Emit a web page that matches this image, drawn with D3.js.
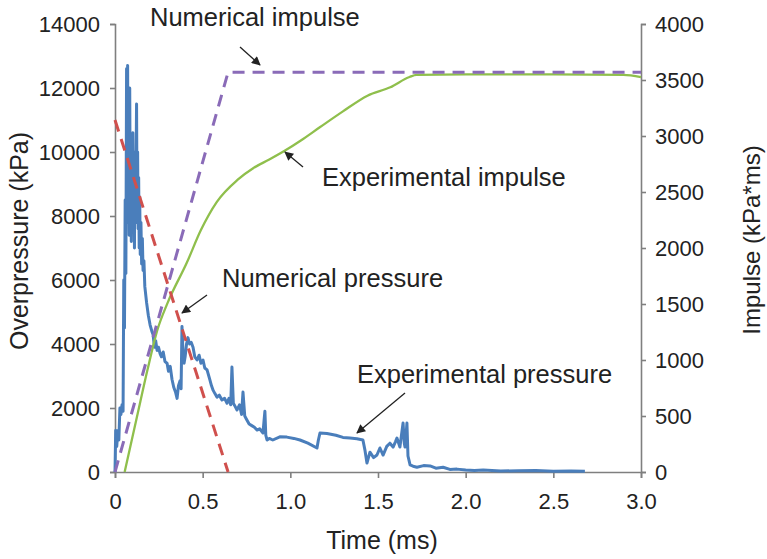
<!DOCTYPE html>
<html>
<head>
<meta charset="utf-8">
<script src="https://cdn.jsdelivr.net/npm/d3@7"></script>
<style>
  body { margin: 0; background: #fff; }
  svg { font-family: "Liberation Sans", Arial, sans-serif; }
  .axis path, .axis line { stroke: #7f7f7f; stroke-width: 1.6; }
  .axis text { fill: #222; font-size: 22px; }
</style>
</head>
<body>
<svg id="chart"></svg>
<script>
// time in ms, pressure in kPa, impulse in kPa*ms
const expPressureT = [0.000, 0.004, 0.010, 0.016, 0.022, 0.028, 0.034, 0.040, 0.046, 0.050, 0.054, 0.058, 0.062, 0.066, 0.069, 0.072, 0.075, 0.078, 0.081, 0.084, 0.087, 0.090, 0.093, 0.096, 0.099, 0.102, 0.105, 0.108, 0.111, 0.114, 0.117, 0.120, 0.123, 0.126, 0.129, 0.132, 0.135, 0.138, 0.141, 0.144, 0.148, 0.152, 0.156, 0.160, 0.165, 0.170, 0.180, 0.190, 0.200, 0.210, 0.217, 0.225, 0.232, 0.240, 0.248, 0.257, 0.265, 0.275, 0.285, 0.297, 0.305, 0.315, 0.325, 0.335, 0.345, 0.354, 0.362, 0.371, 0.377, 0.382, 0.388, 0.394, 0.400, 0.408, 0.416, 0.425, 0.435, 0.445, 0.455, 0.468, 0.480, 0.490, 0.502, 0.512, 0.525, 0.540, 0.550, 0.560, 0.570, 0.582, 0.595, 0.610, 0.625, 0.639, 0.650, 0.660, 0.667, 0.675, 0.685, 0.696, 0.710, 0.722, 0.730, 0.740, 0.753, 0.765, 0.780, 0.795, 0.810, 0.825, 0.844, 0.850, 0.855, 0.860, 0.867, 0.880, 0.900, 0.940, 0.980, 1.020, 1.055, 1.100, 1.152, 1.160, 1.169, 1.209, 1.260, 1.300, 1.340, 1.380, 1.414, 1.425, 1.437, 1.454, 1.475, 1.494, 1.511, 1.529, 1.550, 1.568, 1.586, 1.600, 1.608, 1.625, 1.643, 1.650, 1.654, 1.660, 1.665, 1.671, 1.683, 1.700, 1.722, 1.760, 1.797, 1.830, 1.871, 1.910, 1.950, 2.000, 2.050, 2.100, 2.200, 2.300, 2.400, 2.500, 2.600, 2.680];
const expPressure = [0, 1300, 800, 1300, 1000, 2000, 1800, 2100, 1900, 6000, 4500, 8500, 6200, 12600, 7800, 12700, 8200, 10500, 7400, 12000, 8000, 10400, 7200, 9800, 7600, 10600, 8200, 9600, 7000, 10000, 7800, 9500, 11500, 8000, 10000, 7600, 9200, 7000, 8600, 6800, 7800, 6500, 7300, 6300, 6600, 5800, 5300, 4900, 4600, 4400, 4300, 3900, 4100, 3800, 3900, 3700, 3600, 3750, 3450, 3400, 3150, 3300, 2900, 2650, 2500, 2300, 2700, 2850, 2600, 4550, 3700, 3400, 3600, 4000, 4200, 4000, 4050, 3900, 3600, 3500, 3650, 3400, 3500, 3250, 3190, 2900, 2700, 2550, 2450, 2340, 2400, 2250, 2300, 2150, 2300, 2100, 3280, 2150, 2050, 1940, 2100, 1800, 2500, 1750, 1620, 1500, 1450, 1400, 1310, 1350, 1220, 1600, 1900, 1150, 1000, 1050, 1000, 1100, 1090, 1050, 1000, 900, 750, 1000, 1220, 1200, 1150, 1080, 1060, 1040, 1000, 700, 280, 620, 450, 530, 750, 530, 800, 900, 780, 950, 1060, 780, 1530, 900, 780, 1150, 1530, 500, 220, 180, 150, 200, 190, 120, 150, 80, 90, 60, 50, 60, 30, 40, 50, 20, 30, 20];

const numPressureT = [0, 0.645];
const numPressure = [11000, 0];

const expImpulseT = [0.055, 0.125, 0.185, 0.240, 0.300, 0.410, 0.490, 0.580, 0.700, 0.790, 0.880, 0.970, 1.060, 1.170, 1.300, 1.440, 1.570, 1.680, 1.720, 2.000, 2.500, 2.900, 3.000];
const expImpulse = [0, 490, 910, 1260, 1510, 1870, 2160, 2410, 2610, 2715, 2790, 2870, 2960, 3080, 3220, 3360, 3435, 3527, 3545, 3550, 3550, 3545, 3525];

const numImpulseT = [0, 0.645, 3.0];
const numImpulse = [0, 3570, 3570];

const xTicks = [0, 0.5, 1.0, 1.5, 2.0, 2.5, 3.0];
const pressureTicks = [0, 2000, 4000, 6000, 8000, 10000, 12000, 14000];
const impulseTicks = [0, 500, 1000, 1500, 2000, 2500, 3000, 3500, 4000];

// text labels with arrows pointing at the series
const noteLabels = ["Numerical impulse", "Experimental impulse", "Numerical pressure", "Experimental pressure"];

class BlastChart {

  constructor(_config) {
    this.config = {
      parentElement: _config.parentElement,
      containerWidth: _config.containerWidth || 767,
      containerHeight: _config.containerHeight || 559,
      margin: { top: 24, bottom: 87, right: 126, left: 115 }
    }
    this.initVis();
  }

  initVis() {
    let vis = this;
    vis.width = vis.config.containerWidth - vis.config.margin.left - vis.config.margin.right;
    vis.height = vis.config.containerHeight - vis.config.margin.top - vis.config.margin.bottom;

    vis.svg = d3.select(vis.config.parentElement)
      .attr('width', vis.config.containerWidth)
      .attr('height', vis.config.containerHeight);

    vis.svg.append('defs').append('marker')
      .attr('id', 'head')
      .attr('viewBox', '0 0 10 10')
      .attr('refX', 9).attr('refY', 5)
      .attr('markerWidth', 10).attr('markerHeight', 9)
      .attr('markerUnits', 'userSpaceOnUse')
      .attr('orient', 'auto')
      .append('path')
      .attr('d', 'M0,0 L10,5 L0,10 z')
      .attr('fill', '#222');

    vis.chart = vis.svg.append('g')
      .attr('transform', `translate(${vis.config.margin.left},${vis.config.margin.top})`);

    vis.xScale = d3.scaleLinear().domain([0, 3]).range([0, vis.width]);
    vis.yScale = d3.scaleLinear().domain([0, 14000]).range([vis.height, 0]);
    vis.y2Scale = d3.scaleLinear().domain([0, 4000]).range([vis.height, 0]);

    vis.xAxisG = d3.axisBottom(vis.xScale)
      .tickValues(xTicks)
      .tickSize(6).tickPadding(15)
      .tickFormat(d => d === 0 ? '0' : d.toFixed(1));
    vis.yAxisG = d3.axisLeft(vis.yScale)
      .tickValues(pressureTicks)
      .tickSize(5).tickPadding(10)
      .tickFormat(d3.format('d'));
    vis.y2AxisG = d3.axisRight(vis.y2Scale)
      .tickValues(impulseTicks)
      .tickSize(5).tickPadding(9)
      .tickFormat(d3.format('d'));

    vis.chart.append('g').attr('class', 'axis xAxis')
      .attr('transform', `translate(0,${vis.height})`).call(vis.xAxisG);
    vis.chart.append('g').attr('class', 'axis yAxis').call(vis.yAxisG);
    vis.chart.append('g').attr('class', 'axis y2Axis')
      .attr('transform', `translate(${vis.width},0)`).call(vis.y2AxisG);

    vis.svg.append("text")
      .attr("text-anchor", "middle")
      .style("font-size", "25px")
      .attr("x", 382)
      .attr("y", 549)
      .attr("fill", "#222")
      .text("Time (ms)");

    vis.svg.append("text")
      .attr("text-anchor", "middle")
      .attr("transform", "rotate(-90)")
      .style("font-size", "25px")
      .attr("y", 28)
      .attr("x", -241)
      .attr("fill", "#222")
      .text("Overpressure (kPa)");

    vis.svg.append("text")
      .attr("text-anchor", "middle")
      .attr("transform", "rotate(-90)")
      .style("font-size", "24px")
      .attr("y", 760)
      .attr("x", -240)
      .attr("fill", "#222")
      .text("Impulse (kPa*ms)");

    vis.updateVis();
  }

  updateVis() {
    let vis = this;
    let pairs = (ts, vs) => ts.map((t, i) => [t, vs[i]]);

    let lineP = d3.line().x(d => vis.xScale(d[0])).y(d => vis.yScale(d[1]));
    let lineI = d3.line().x(d => vis.xScale(d[0])).y(d => vis.y2Scale(d[1]));

    vis.chart.append('path')
      .datum(pairs(expPressureT, expPressure))
      .attr('d', lineP)
      .attr('fill', 'none')
      .attr('stroke', '#4a7ebb')
      .attr('stroke-width', 3)
      .attr('stroke-linejoin', 'round');

    vis.chart.append('path')
      .datum(pairs(expImpulseT, expImpulse))
      .attr('d', d3.line().x(d => vis.xScale(d[0])).y(d => vis.y2Scale(d[1])).curve(d3.curveMonotoneX))
      .attr('fill', 'none')
      .attr('stroke', '#8fbf4c')
      .attr('stroke-width', 2.3);

    vis.chart.append('path')
      .datum(pairs(numPressureT, numPressure))
      .attr('d', lineP)
      .attr('fill', 'none')
      .attr('stroke', '#d0504d')
      .attr('stroke-width', 3)
      .attr('stroke-dasharray', '12,8');

    vis.chart.append('path')
      .datum(pairs(numImpulseT, numImpulse))
      .attr('d', lineI)
      .attr('fill', 'none')
      .attr('stroke', '#8a6bb8')
      .attr('stroke-width', 3)
      .attr('stroke-dasharray', '12,8');

    // label position, then arrow tail and head
    let notes = [
      { x: 150, y: 26, a: [240, 47, 260, 65] },
      { x: 322, y: 186, a: [303, 167, 285, 152] },
      { x: 222, y: 287, a: [207, 295, 182, 313] },
      { x: 357, y: 383, a: [405, 393, 357, 433] }
    ];
    notes.forEach((n, i) => {
      vis.svg.append('text')
        .attr('x', n.x).attr('y', n.y)
        .style('font-size', '25.5px')
        .attr('fill', '#222')
        .text(noteLabels[i]);
      vis.svg.append('line')
        .attr('x1', n.a[0]).attr('y1', n.a[1])
        .attr('x2', n.a[2]).attr('y2', n.a[3])
        .attr('stroke', '#222')
        .attr('stroke-width', 1.3)
        .attr('marker-end', 'url(#head)');
    });
  }
}

let chart = new BlastChart({ parentElement: '#chart' });
</script>
</body>
</html>
